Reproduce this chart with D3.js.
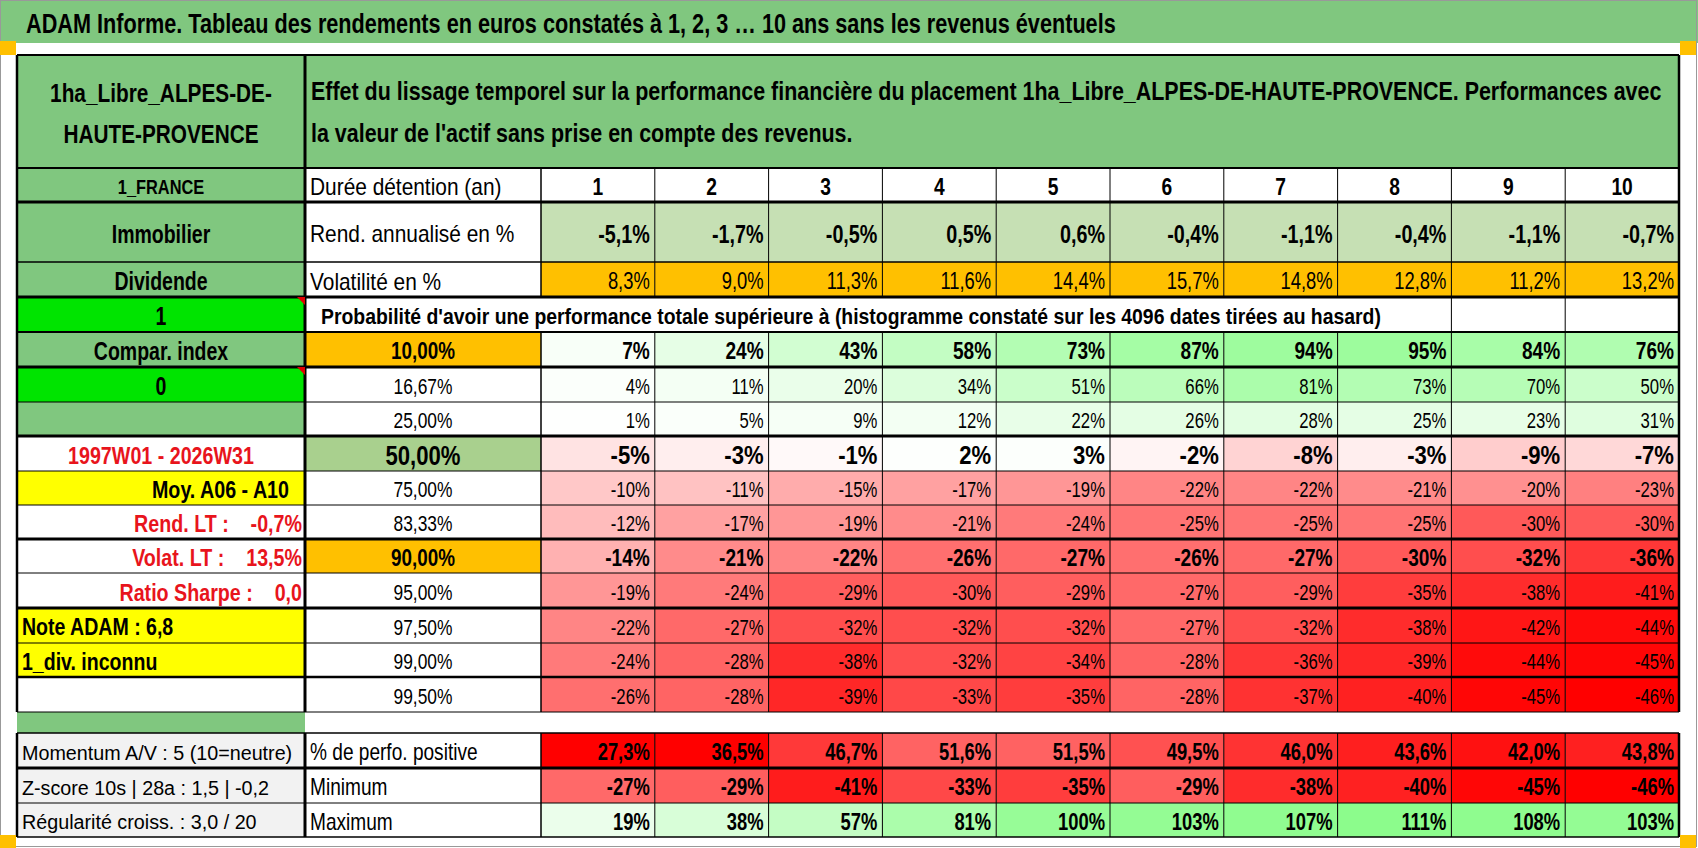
<!DOCTYPE html>
<html lang="fr">
<head>
<meta charset="utf-8">
<title>ADAM Informe</title>
<script src="https://d3js.org/d3.v7.min.js"></script>
<style>
  body { margin: 0; background: #fff; }
  svg text { font-family: 'Liberation Sans', Arial, sans-serif; white-space: pre; }
</style>
</head>
<body>
<svg id="chart" width="1698" height="848"></svg>
<script>
// ---- data ----
const title = "ADAM Informe. Tableau des rendements en euros constatés à 1, 2, 3 … 10 ans sans les revenus éventuels";
const headerLeft = ["1ha_Libre_ALPES-DE-", "HAUTE-PROVENCE"];
const headerRight = ["Effet du lissage temporel sur la performance financière du placement 1ha_Libre_ALPES-DE-HAUTE-PROVENCE. Performances avec",
                     "la valeur de l'actif sans prise en compte des revenus."];
const probTitle = "Probabilité d'avoir une performance totale supérieure à (histogramme constaté sur les 4096 dates tirées au hasard)";
const years = [1, 2, 3, 4, 5, 6, 7, 8, 9, 10];
const rendAnnualise = [-5.1, -1.7, -0.5, 0.5, 0.6, -0.4, -1.1, -0.4, -1.1, -0.7];
const volatilite = [8.3, 9.0, 11.3, 11.6, 14.4, 15.7, 14.8, 12.8, 11.2, 13.2];
const probLevels = ["10,00%", "16,67%", "25,00%", "50,00%", "75,00%", "83,33%", "90,00%", "95,00%", "97,50%", "99,00%", "99,50%"];
const probValues = [
  [7, 24, 43, 58, 73, 87, 94, 95, 84, 76],
  [4, 11, 20, 34, 51, 66, 81, 73, 70, 50],
  [1, 5, 9, 12, 22, 26, 28, 25, 23, 31],
  [-5, -3, -1, 2, 3, -2, -8, -3, -9, -7],
  [-10, -11, -15, -17, -19, -22, -22, -21, -20, -23],
  [-12, -17, -19, -21, -24, -25, -25, -25, -30, -30],
  [-14, -21, -22, -26, -27, -26, -27, -30, -32, -36],
  [-19, -24, -29, -30, -29, -27, -29, -35, -38, -41],
  [-22, -27, -32, -32, -32, -27, -32, -38, -42, -44],
  [-24, -28, -38, -32, -34, -28, -36, -39, -44, -45],
  [-26, -28, -39, -33, -35, -28, -37, -40, -45, -46]
];
const pctPositive = [27.3, 36.5, 46.7, 51.6, 51.5, 49.5, 46.0, 43.6, 42.0, 43.8];
const minimum = [-27, -29, -41, -33, -35, -29, -38, -40, -45, -46];
const maximum = [19, 38, 57, 81, 100, 103, 107, 111, 108, 103];
const sideLabels = ["1_FRANCE", "Immobilier", "Dividende", "1", "Compar. index", "0", "",
  "1997W01 - 2026W31", "Moy. A06 - A10", "Rend. LT :    -0,7%", "Volat. LT :    13,5%", "Ratio Sharpe :    0,0",
  "Note ADAM : 6,8", "1_div. inconnu", ""];
const bottomLabels = ["Momentum A/V : 5 (10=neutre)", "Z-score 10s | 28a : 1,5 | -0,2", "Régularité croiss. : 3,0 / 20"];
const bottomNames = ["% de perfo. positive", "Minimum", "Maximum"];
const topNames = ["Durée détention (an)", "Rend. annualisé en %", "Volatilité en %"];

// ---- layout ----
const svg = d3.select("#chart");
const bg = svg.append("g"), lines = svg.append("g").attr("stroke", "#000"), fg = svg.append("g");
const GREEN = "#80c77f", LIME = "#00e400", YELLOW = "#ffff00", ORANGE = "#ffc000", RED = "#e8141c";
const xA = 17, xB = 305, xC = 541, xEnd = 1679;
const rowEdges = [55, 168, 202, 262, 297, 332, 367, 402, 436, 471, 505, 539, 573, 608, 643, 677, 712, 733, 768, 803, 837];
const edgeWidth = [2, 2, 3, 1.5, 3, 2, 3, 1, 3, 1, 1, 3, 1, 3, 1, 2.5, 1, 1.5, 3, 1, 1.5];
const row = i => ({ y0: rowEdges[i], y1: rowEdges[i + 1], cy: (rowEdges[i] + rowEdges[i + 1]) / 2 });
const x = d3.scaleBand().domain(years).range([xC, xEnd]);
// horizontal condensing: the spreadsheet font is narrower than Liberation Sans
const K_BOLD = 0.8, K_REG = 0.87;

const fmt1 = v => v.toFixed(1).replace(".", ",") + "%";
const fmt0 = v => v + "%";
const red = d3.scaleLinear().domain([0, -46]).range(["#ffffff", "#ff0000"]).clamp(true);
const green = d3.scaleLinear().domain([0, 111]).range(["#ffffff", "#8cfc8c"]).clamp(true);
const heat = v => v < 0 ? red(v) : green(v);
const posColor = d3.scaleLinear().domain([40, 70]).range(["#ff0000", "#ffffff"]).clamp(true);

function txt(s, px, py, opt) {
  opt = opt || {};
  const k = opt.k || (opt.bold ? K_BOLD : K_REG);
  return fg.append("text")
    .attr("transform", `translate(${px},${py}) scale(${k},1)`)
    .attr("text-anchor", opt.anchor || "start")
    .attr("font-size", opt.size || 24)
    .attr("font-weight", opt.bold ? "bold" : "normal")
    .attr("fill", opt.color || "#000")
    .text(s);
}
function rect(px, py, w, h, fill) {
  bg.append("rect").attr("x", px).attr("y", py).attr("width", w).attr("height", h).attr("fill", fill);
}
// squeeze a text to a measured width, returns the factor used
function fit(sel, w, px, py) {
  const k = w / sel.node().getComputedTextLength();
  sel.attr("transform", `translate(${px},${py}) scale(${k},1)`);
  return k;
}
const base = (r, size) => r.cy + size * 0.36 + 1.5;

// title band
rect(0, 0, 1698, 43, GREEN);
fit(txt(title, 26, 33, { size: 28, bold: true }), 1090, 26, 33);

// header block
rect(xA, rowEdges[0], xB - xA, rowEdges[1] - rowEdges[0], GREEN);
rect(xB, rowEdges[0], xEnd - xB, rowEdges[1] - rowEdges[0], GREEN);
headerLeft.forEach((s, i) => txt(s, (xA + xB) / 2, 102 + i * 41, { size: 26, bold: true, anchor: "middle" }));
const kh = fit(txt(headerRight[0], 311, 100, { size: 26, bold: true }), 1350, 311, 100);
txt(headerRight[1], 311, 142, { size: 26, bold: true, k: kh });

// left column rows
const sideFill = [GREEN, GREEN, GREEN, LIME, GREEN, LIME, GREEN, "#fff", YELLOW, "#fff", "#fff", "#fff", YELLOW, YELLOW, "#fff"];
sideLabels.forEach((s, i) => {
  const r = row(i + 1);
  rect(xA, r.y0, xB - xA, r.y1 - r.y0, sideFill[i]);
  let size = i === 0 ? 21 : (i < 6 ? 25 : 24), k = i < 6 ? 0.78 : 0.82;
  let anchor = "middle", px = (xA + xB) / 2, color = "#000", bold = true;
  if (i >= 8 && i <= 11) { anchor = "end"; px = i === 8 ? 289 : 302; }
  if (i === 7 || (i >= 9 && i <= 11)) color = RED;
  if (i === 12 || i === 13) { anchor = "start"; px = 22; size = 23; k = 0.85; }
  if (s) txt(s, px, base(r, size), { size, bold, anchor, color, k });
  if (s === "1" || s === "0") {
    fg.append("path").attr("d", `M${xB - 8},${r.y0} L${xB},${r.y0} L${xB},${r.y0 + 8} Z`).attr("fill", "#e00000");
  }
});
rect(xA, rowEdges[16], xB - xA, rowEdges[17] - rowEdges[16], GREEN);

// column B labels
topNames.forEach((s, i) => txt(s, 310, base(row(i + 1), 24), { size: 24 }));

// years header
years.forEach(d => txt(d, x(d) + x.bandwidth() / 2, base(row(1), 24), { size: 24, bold: true, anchor: "middle" }));
// rendement annualisé
years.forEach((d, j) => {
  const r = row(2);
  rect(x(d), r.y0, x.bandwidth(), r.y1 - r.y0, "#c6e0b4");
  txt(fmt1(rendAnnualise[j]), x(d) + x.bandwidth() - 5, base(r, 26), { size: 26, bold: true, anchor: "end", k: 0.76 });
});
// volatilité
years.forEach((d, j) => {
  const r = row(3);
  rect(x(d), r.y0, x.bandwidth(), r.y1 - r.y0, ORANGE);
  txt(fmt1(volatilite[j]), x(d) + x.bandwidth() - 5, base(r, 23), { size: 23, anchor: "end", k: 0.8 });
});
// probability title row
const pty = base(row(4), 22);
fit(txt(probTitle, 321, pty, { size: 22, bold: true }), 1060, 321, pty);

// probability grid
const levelFill = { 0: ORANGE, 3: "#a9d08e", 6: ORANGE };
probLevels.forEach((lv, i) => {
  const r = row(i + 5);
  const strong = i === 0 || i === 3 || i === 6;
  const size = i === 3 ? 26 : (strong ? 23 : 22);
  const k = i === 3 ? 0.85 : (strong ? 0.83 : 0.76);
  const lsize = i === 3 ? 27 : (strong ? 23 : 22);
  if (levelFill[i]) rect(xB, r.y0, xC - xB, r.y1 - r.y0, levelFill[i]);
  txt(lv, (xB + xC) / 2, base(r, lsize), { size: lsize, bold: strong, anchor: "middle", k: strong ? 0.82 : 0.79 });
  probValues[i].forEach((v, j) => {
    const d = years[j];
    rect(x(d), r.y0, x.bandwidth(), r.y1 - r.y0, heat(v));
    txt(fmt0(v), x(d) + x.bandwidth() - 5, base(r, size), { size, bold: strong, anchor: "end", k });
  });
});

// bottom block
[pctPositive, minimum, maximum].forEach((vals, i) => {
  const r = row(i + 17);
  rect(xA, r.y0, xB - xA, r.y1 - r.y0, "#f2f2f2");
  txt(bottomLabels[i], 22, base(r, 21), { size: 21, k: 0.94 });
  txt(bottomNames[i], 310, base(r, 23), { size: 23, k: 0.83 });
  vals.forEach((v, j) => {
    const d = years[j];
    rect(x(d), r.y0, x.bandwidth(), r.y1 - r.y0, i === 0 ? posColor(v) : heat(v));
    txt(i === 0 ? fmt1(v) : fmt0(v), x(d) + x.bandwidth() - 5, base(r, 23), { size: 23, bold: true, anchor: "end", k: 0.8 });
  });
});

// ---- borders ----
rowEdges.forEach((y, i) => {
  lines.append("line").attr("x1", xA).attr("x2", xEnd).attr("y1", y).attr("y2", y).attr("stroke-width", edgeWidth[i]);
});
const vx = [xA, xB, xC].concat(years.slice(1).map(d => x(d)), [xEnd]);
for (let i = 0; i < rowEdges.length - 1; i++) {
  if (i === 16) continue; // separator row has no verticals
  vx.forEach((vxx, k) => {
    if (i === 0 && k >= 2 && vxx !== xEnd) return; // header block merged
    if (i === 4 && k >= 2 && vxx < x(9)) return;   // probability title merged
    const w = (k === 0 || vxx === xEnd) ? 2.5 : (k === 1 ? 3 : (k === 2 ? 1.5 : 1));
    lines.append("line").attr("x1", vxx).attr("x2", vxx).attr("y1", rowEdges[i]).attr("y2", rowEdges[i + 1]).attr("stroke-width", w);
  });
}

// frame and corner markers
svg.append("rect").attr("x", 0.5).attr("y", 0.5).attr("width", 1696).attr("height", 846)
  .attr("fill", "none").attr("stroke", "#999");
[[0, 41], [1680, 41], [0, 835], [1680, 835]].forEach(p =>
  svg.append("rect").attr("x", p[0]).attr("y", p[1]).attr("width", 16).attr("height", 14).attr("fill", ORANGE));
</script>
</body>
</html>
